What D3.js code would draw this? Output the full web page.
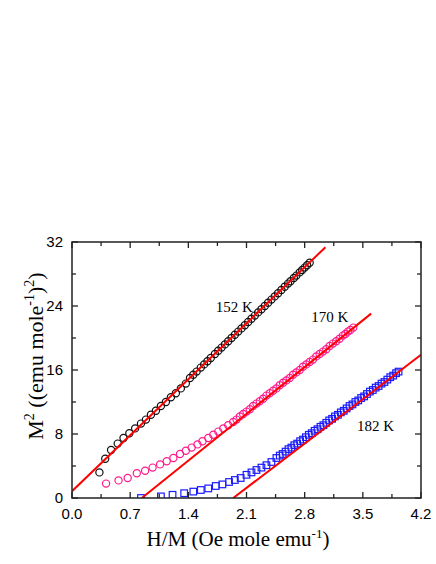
<!DOCTYPE html>
<html><head><meta charset="utf-8">
<script src="https://cdn.jsdelivr.net/npm/d3@7"></script>
<style>body{margin:0;background:#fff}</style>
</head><body>
<script>
// ---- data ----
const x152 = [0.33,0.40,0.47,0.55,0.62,0.69,0.76,0.83,0.89,0.95,1.01,1.07,1.13,1.19,1.25,1.31,1.37,1.42,1.46,1.50,1.55,1.59,1.63,1.67,1.72,1.76,1.80,1.84,1.88,1.92,1.96,2.00,2.04,2.08,2.12,2.16,2.20,2.24,2.28,2.32,2.36,2.40,2.44,2.48,2.52,2.56,2.60,2.63,2.67,2.70,2.74,2.77,2.80,2.83,2.86];
const y152 = [3.2,4.9,6.0,6.8,7.5,8.1,8.7,9.3,9.8,10.4,10.9,11.5,12.0,12.6,13.1,13.7,14.3,15.0,15.4,15.8,16.3,16.7,17.1,17.5,18.0,18.4,18.8,19.2,19.6,20.0,20.4,20.8,21.2,21.6,22.0,22.4,22.8,23.2,23.6,24.0,24.4,24.8,25.2,25.6,26.0,26.4,26.8,27.1,27.5,27.8,28.2,28.5,28.8,29.1,29.4];
const x170 = [0.41,0.56,0.67,0.78,0.88,0.97,1.06,1.14,1.22,1.30,1.37,1.44,1.51,1.57,1.64,1.70,1.76,1.82,1.88,1.94,1.98,2.02,2.06,2.10,2.14,2.18,2.22,2.26,2.30,2.34,2.38,2.42,2.46,2.50,2.54,2.58,2.62,2.66,2.70,2.74,2.78,2.82,2.86,2.90,2.94,2.98,3.02,3.06,3.10,3.14,3.18,3.22,3.26,3.29,3.32,3.35,3.385];
const y170 = [1.8,2.2,2.5,3.1,3.4,3.8,4.2,4.6,5.0,5.5,5.9,6.3,6.7,7.1,7.5,7.9,8.3,8.7,9.1,9.5,9.8,10.2,10.5,10.8,11.1,11.5,11.8,12.1,12.4,12.8,13.1,13.4,13.7,14.1,14.4,14.7,15.0,15.4,15.7,16.0,16.4,16.7,17.0,17.3,17.7,18.0,18.3,18.6,19.0,19.3,19.6,19.9,20.3,20.5,20.8,21.0,21.3];
const x182 = [0.83,1.07,1.21,1.35,1.46,1.55,1.64,1.73,1.81,1.89,1.96,2.03,2.10,2.16,2.22,2.28,2.34,2.40,2.46,2.50,2.535,2.57,2.605,2.64,2.675,2.71,2.745,2.78,2.815,2.85,2.885,2.92,2.955,2.99,3.025,3.06,3.095,3.13,3.165,3.20,3.235,3.27,3.305,3.34,3.375,3.41,3.445,3.48,3.515,3.55,3.585,3.62,3.655,3.69,3.725,3.76,3.795,3.83,3.865,3.90,3.93];
const y182 = [0.0,0.2,0.4,0.6,0.8,1.0,1.2,1.5,1.7,2.0,2.25,2.5,2.9,3.2,3.5,3.8,4.1,4.5,5.0,5.3,5.5,5.8,6.1,6.3,6.6,6.8,7.1,7.3,7.6,7.9,8.1,8.4,8.6,8.9,9.1,9.4,9.7,9.9,10.2,10.4,10.7,10.9,11.2,11.5,11.7,12.0,12.2,12.5,12.7,13.0,13.3,13.5,13.8,14.0,14.3,14.5,14.8,15.1,15.3,15.6,15.8];
// linear fits: endpoints [x0,y0,x1,y1]
const fit152 = [0.0, 0.85, 3.05, 31.35];
const fit170 = [0.84, 0.0, 3.60, 23.05];
const fit182 = [1.94, 0.0, 4.20, 17.9];
const xMajor = [0.0,0.7,1.4,2.1,2.8,3.5,4.2];
const xMinor = [0.35,1.05,1.75,2.45,3.15,3.85];
const yMajor = [0,8,16,24,32];
const yMinor = [4,12,20,28];
const seriesLabels = ["152 K","170 K","182 K"];

const W=436,H=564;
const L=72,R=421,T=242,B=498;
const svg=d3.select("body").append("svg").attr("width",W).attr("height",H);
const x=d3.scaleLinear().domain([0,4.2]).range([L,R]);
const y=d3.scaleLinear().domain([0,32]).range([B,T]);

svg.append("clipPath").attr("id","c").append("rect").attr("x",L).attr("y",T).attr("width",R-L).attr("height",B-T);
const g=svg.append("g").attr("clip-path","url(#c)");

// data markers
function circles(xs,ys,col){
  g.append("g").selectAll("circle").data(xs.map((v,i)=>[v,ys[i]])).join("circle")
   .attr("cx",d=>x(d[0])).attr("cy",d=>y(d[1])).attr("r",3.6)
   .attr("fill","none").attr("stroke",col).attr("stroke-width",1.2);
}
circles(x152,y152,"#111");
circles(x170,y170,"#ff1a8c");
g.append("g").selectAll("rect").data(x182.map((v,i)=>[v,y182[i]])).join("rect")
  .attr("x",d=>x(d[0])-3.3).attr("y",d=>y(d[1])-3.3).attr("width",6.6).attr("height",6.6)
  .attr("fill","none").attr("stroke","#1a1aff").attr("stroke-width",1.2);

// fit lines
[fit152,fit170,fit182].forEach(f=>{
  g.append("line").attr("x1",x(f[0])).attr("y1",y(f[1])).attr("x2",x(f[2])).attr("y2",y(f[3]))
   .attr("stroke","#ff0000").attr("stroke-width",2);
});

// axes with inward ticks
const ax=svg.append("g");
function tickX(vals,len){
  vals.forEach(v=>{
    ax.append("line").attr("x1",x(v)).attr("x2",x(v)).attr("y1",B).attr("y2",B-len).attr("stroke","#222").attr("stroke-width",1.3);
    ax.append("line").attr("x1",x(v)).attr("x2",x(v)).attr("y1",T).attr("y2",T+len).attr("stroke","#222").attr("stroke-width",1.3);
  });
}
function tickY(vals,len){
  vals.forEach(v=>{
    ax.append("line").attr("y1",y(v)).attr("y2",y(v)).attr("x1",L).attr("x2",L+len).attr("stroke","#222").attr("stroke-width",1.3);
    ax.append("line").attr("y1",y(v)).attr("y2",y(v)).attr("x1",R).attr("x2",R-len).attr("stroke","#222").attr("stroke-width",1.3);
  });
}
tickX(xMajor,6);tickX(xMinor,4);tickY(yMajor,6);tickY(yMinor,4);
ax.append("rect").attr("x",L).attr("y",T).attr("width",R-L).attr("height",B-T).attr("fill","none").attr("stroke","#222").attr("stroke-width",1.5);

const sans="'Liberation Sans', Arial, sans-serif", serif="'Liberation Serif','Times New Roman',serif";
ax.selectAll(".xl").data(xMajor).join("text").attr("x",d=>x(d)).attr("y",B+21)
  .attr("text-anchor","middle").attr("font-family",sans).attr("font-size",15).text(d=>d.toFixed(1));
ax.selectAll(".yl").data(yMajor).join("text").attr("x",L-9).attr("y",d=>y(d)+5)
  .attr("text-anchor","end").attr("font-family",sans).attr("font-size",15).text(d=>d);

// series labels
const lab=[[1.73,23.3],[2.88,22.0],[3.43,8.4]];
seriesLabels.forEach((s,i)=>{
  svg.append("text").attr("x",x(lab[i][0])).attr("y",y(lab[i][1])).attr("font-family",serif).attr("font-size",15).text(s);
});

// axis titles
const xt=svg.append("text").attr("x",238).attr("y",546).attr("text-anchor","middle").attr("font-family",serif).attr("font-size",21);
xt.append("tspan").text("H/M (Oe mole emu");
xt.append("tspan").attr("font-size",13).attr("dy",-8).text("-1");
xt.append("tspan").attr("dy",8).text(")");

const yt=svg.append("text").attr("transform","translate(43,356) rotate(-90)").attr("text-anchor","middle").attr("font-family",serif).attr("font-size",22);
yt.append("tspan").text("M");
yt.append("tspan").attr("font-size",14).attr("dy",-9).text("2");
yt.append("tspan").attr("dy",9).text(" ((emu mole");
yt.append("tspan").attr("font-size",14).attr("dy",-9).text("-1");
yt.append("tspan").attr("dy",9).text(")");
yt.append("tspan").attr("font-size",14).attr("dy",-9).text("2");
yt.append("tspan").attr("dy",9).text(")");
</script>
</body></html>
